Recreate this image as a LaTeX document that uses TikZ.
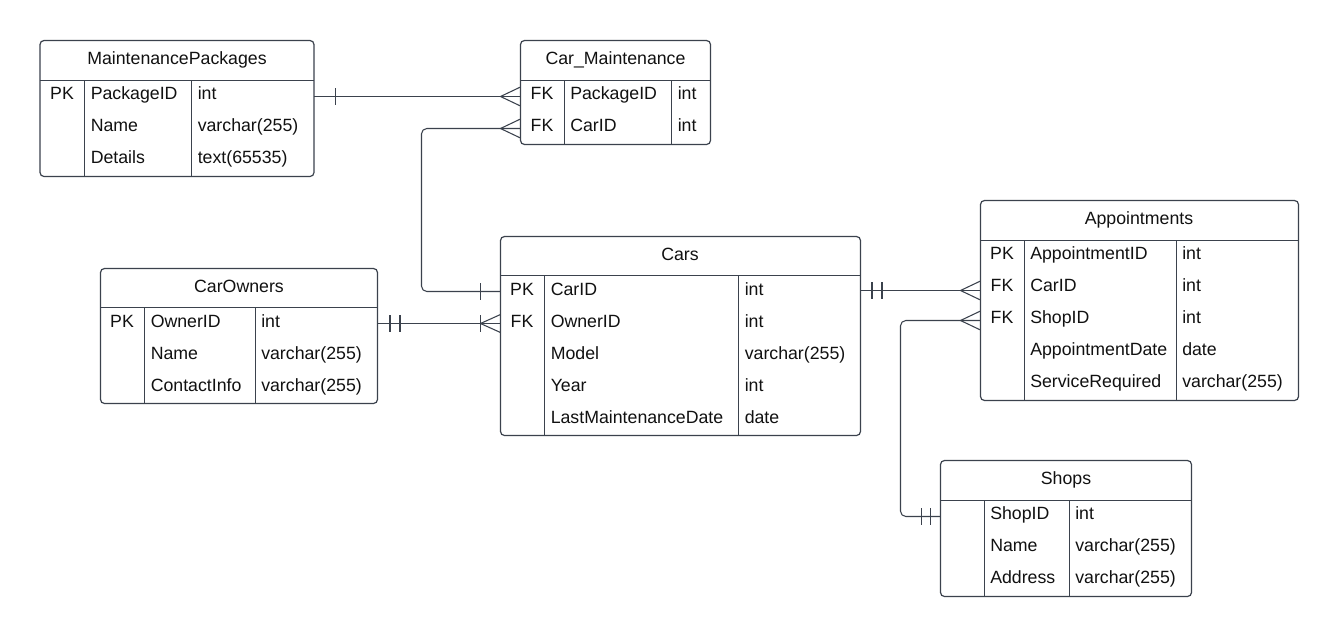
\documentclass[tikz,border=0pt]{standalone}
\usepackage{fontspec}
\setmainfont{Liberation Sans}
\usetikzlibrary{fit,calc}
\definecolor{lc}{HTML}{3B424D}
\definecolor{tc}{HTML}{111111}
\begin{document}
\begin{tikzpicture}[x=0.75pt,y=-0.75pt,
  tbl/.style={draw=lc,line width=0.9pt,rounded corners=3pt,inner sep=0pt},
  sep/.style={draw=lc,line width=0.9pt},
  conn/.style={draw=lc,line width=0.8pt,rounded corners=4pt},
  ttl/.style={anchor=base,inner sep=0pt,text=tc,font=\fontsize{13.3}{16}\selectfont},
  keyt/.style={anchor=base,inner sep=0pt,text=tc,font=\fontsize{13.3}{16}\selectfont},
  cell/.style={anchor=base west,inner sep=0pt,text=tc,font=\fontsize{13.3}{16}\selectfont}]
\useasboundingbox[fill=white] (0,0) rectangle (1339,636);

% ---------- MaintenancePackages ----------
\node[tbl,fit={(40,40.5)(314,176.5)}] (mp) {};
\draw[sep] (40,80.5) -- (314,80.5);
\draw[sep] (84.5,80.5) -- (84.5,176.5);
\draw[sep] (191.5,80.5) -- (191.5,176.5);
\node[ttl] (mpt) at (177,64.5) {MaintenancePackages};
\node[keyt] (mpk1) at (62,99.5) {PK};
\node[cell] (mpn1) at (90.5,99.5) {PackageID};
\node[cell] (mpy1) at (197.5,99.5) {int};
\node[cell] (mpn2) at (90.5,131.5) {Name};
\node[cell] (mpy2) at (197.5,131.5) {varchar(255)};
\node[cell] (mpn3) at (90.5,163.5) {Details};
\node[cell] (mpy3) at (197.5,163.5) {text(65535)};

% ---------- Car_Maintenance ----------
\node[tbl,fit={(520.5,40.5)(710.5,144.5)}] (cm) {};
\draw[sep] (520.5,80.5) -- (710.5,80.5);
\draw[sep] (564.5,80.5) -- (564.5,144.5);
\draw[sep] (671.5,80.5) -- (671.5,144.5);
\node[ttl] (cmt) at (615.5,64.5) {Car\_Maintenance};
\node[keyt] (cmk1) at (542,99.5) {FK};
\node[cell] (cmn1) at (570,99.5) {PackageID};
\node[cell] (cmy1) at (677.5,99.5) {int};
\node[keyt] (cmk2) at (542,131.5) {FK};
\node[cell] (cmn2) at (570,131.5) {CarID};
\node[cell] (cmy2) at (677.5,131.5) {int};

% ---------- CarOwners ----------
\node[tbl,fit={(100.5,268.5)(377.5,403.5)}] (co) {};
\draw[sep] (100.5,307.5) -- (377.5,307.5);
\draw[sep] (144.5,307.5) -- (144.5,403.5);
\draw[sep] (255.5,307.5) -- (255.5,403.5);
\node[ttl] (cot) at (239,292) {CarOwners};
\node[keyt] (cok1) at (122,327) {PK};
\node[cell] (con1) at (150.5,327) {OwnerID};
\node[cell] (coy1) at (261,327) {int};
\node[cell] (con2) at (150.5,359) {Name};
\node[cell] (coy2) at (261,359) {varchar(255)};
\node[cell] (con3) at (150.5,391) {ContactInfo};
\node[cell] (coy3) at (261,391) {varchar(255)};

% ---------- Cars ----------
\node[tbl,fit={(500.5,236.5)(860.5,435.5)}] (cars) {};
\draw[sep] (500.5,275.5) -- (860.5,275.5);
\draw[sep] (544.5,275.5) -- (544.5,435.5);
\draw[sep] (738.5,275.5) -- (738.5,435.5);
\node[ttl] (carst) at (680,260.5) {Cars};
\node[keyt] (carsk1) at (522,295.5) {PK};
\node[cell] (carsn1) at (550.5,295.5) {CarID};
\node[cell] (carsy1) at (744.5,295.5) {int};
\node[keyt] (carsk2) at (522,327.5) {FK};
\node[cell] (carsn2) at (550.5,327.5) {OwnerID};
\node[cell] (carsy2) at (744.5,327.5) {int};
\node[cell] (carsn3) at (550.5,359.5) {Model};
\node[cell] (carsy3) at (744.5,359.5) {varchar(255)};
\node[cell] (carsn4) at (550.5,391.5) {Year};
\node[cell] (carsy4) at (744.5,391.5) {int};
\node[cell] (carsn5) at (550.5,423.5) {LastMaintenanceDate};
\node[cell] (carsy5) at (744.5,423.5) {date};

% ---------- Appointments ----------
\node[tbl,fit={(980.5,200.5)(1298.5,400.5)}] (ap) {};
\draw[sep] (980.5,240.5) -- (1298.5,240.5);
\draw[sep] (1024.5,240.5) -- (1024.5,400.5);
\draw[sep] (1176.5,240.5) -- (1176.5,400.5);
\node[ttl] (apt) at (1139,224.5) {Appointments};
\node[keyt] (apk1) at (1002,259.5) {PK};
\node[cell] (apn1) at (1030,259.5) {AppointmentID};
\node[cell] (apy1) at (1182,259.5) {int};
\node[keyt] (apk2) at (1002,291.5) {FK};
\node[cell] (apn2) at (1030,291.5) {CarID};
\node[cell] (apy2) at (1182,291.5) {int};
\node[keyt] (apk3) at (1002,323.5) {FK};
\node[cell] (apn3) at (1030,323.5) {ShopID};
\node[cell] (apy3) at (1182,323.5) {int};
\node[cell] (apn4) at (1030,355.5) {AppointmentDate};
\node[cell] (apy4) at (1182,355.5) {date};
\node[cell] (apn5) at (1030,387.5) {ServiceRequired};
\node[cell] (apy5) at (1182,387.5) {varchar(255)};

% ---------- Shops ----------
\node[tbl,fit={(940.5,460.5)(1191.5,596.5)}] (sh) {};
\draw[sep] (940.5,500.5) -- (1191.5,500.5);
\draw[sep] (984.5,500.5) -- (984.5,596.5);
\draw[sep] (1069.5,500.5) -- (1069.5,596.5);
\node[ttl] (sht) at (1066,484.5) {Shops};
\node[cell] (shn1) at (990,519.5) {ShopID};
\node[cell] (shy1) at (1075,519.5) {int};
\node[cell] (shn2) at (990,551.5) {Name};
\node[cell] (shy2) at (1075,551.5) {varchar(255)};
\node[cell] (shn3) at (990,583.5) {Address};
\node[cell] (shy3) at (1075,583.5) {varchar(255)};

% ---------- connector end points ----------
\coordinate (c1a) at (314,96.5);
\coordinate (c1b) at (520.5,96.5);
\coordinate (c2a) at (520.5,128.5);
\coordinate (c2b) at (500.5,291.5);
\coordinate (c3a) at (377.5,323.5);
\coordinate (c3b) at (500.5,323.5);
\coordinate (c4a) at (860.5,290.5);
\coordinate (c4b) at (980.5,290.5);
\coordinate (c5a) at (980.5,320.5);
\coordinate (c5b) at (940.5,516.5);

% MaintenancePackages -> Car_Maintenance
\draw[conn] (c1a) -- (c1b);
\draw[conn] ($(c1a)+(21.5,-8.5)$) -- ($(c1a)+(21.5,8.5)$);
\draw[conn] ($(c1b)+(-20,0)$) -- ($(c1b)+(0,-9.5)$);
\draw[conn] ($(c1b)+(-20,0)$) -- ($(c1b)+(0,9.5)$);

% Car_Maintenance -> Cars
\draw[conn] (c2a) -- (421.5,128.5) -- (421.5,291.5) -- (c2b);
\draw[conn] ($(c2a)+(-20,0)$) -- ($(c2a)+(0,-9.5)$);
\draw[conn] ($(c2a)+(-20,0)$) -- ($(c2a)+(0,9.5)$);
\draw[conn] ($(c2b)+(-20,-8.5)$) -- ($(c2b)+(-20,8.5)$);

% CarOwners -> Cars
\draw[conn] (c3a) -- (c3b);
\draw[conn] ($(c3a)+(12.5,-8.5)$) -- ($(c3a)+(12.5,8.5)$);
\draw[conn] ($(c3a)+(22.5,-8.5)$) -- ($(c3a)+(22.5,8.5)$);
\draw[conn] ($(c3b)+(-20,-8.5)$) -- ($(c3b)+(-20,8.5)$);
\draw[conn] ($(c3b)+(-20,0)$) -- ($(c3b)+(0,-9)$);
\draw[conn] ($(c3b)+(-20,0)$) -- ($(c3b)+(0,9)$);

% Cars -> Appointments
\draw[conn] (c4a) -- (c4b);
\draw[conn] ($(c4a)+(11.5,-8.5)$) -- ($(c4a)+(11.5,8.5)$);
\draw[conn] ($(c4a)+(21.5,-8.5)$) -- ($(c4a)+(21.5,8.5)$);
\draw[conn] ($(c4b)+(-20,0)$) -- ($(c4b)+(0,-9.5)$);
\draw[conn] ($(c4b)+(-20,0)$) -- ($(c4b)+(0,9.5)$);

% Appointments -> Shops
\draw[conn] (c5a) -- (900.5,320.5) -- (900.5,516.5) -- (c5b);
\draw[conn] ($(c5a)+(-20,0)$) -- ($(c5a)+(0,-9.5)$);
\draw[conn] ($(c5a)+(-20,0)$) -- ($(c5a)+(0,9.5)$);
\draw[conn] ($(c5b)+(-19,-8.5)$) -- ($(c5b)+(-19,8.5)$);
\draw[conn] ($(c5b)+(-10,-8.5)$) -- ($(c5b)+(-10,8.5)$);
\end{tikzpicture}
\end{document}
